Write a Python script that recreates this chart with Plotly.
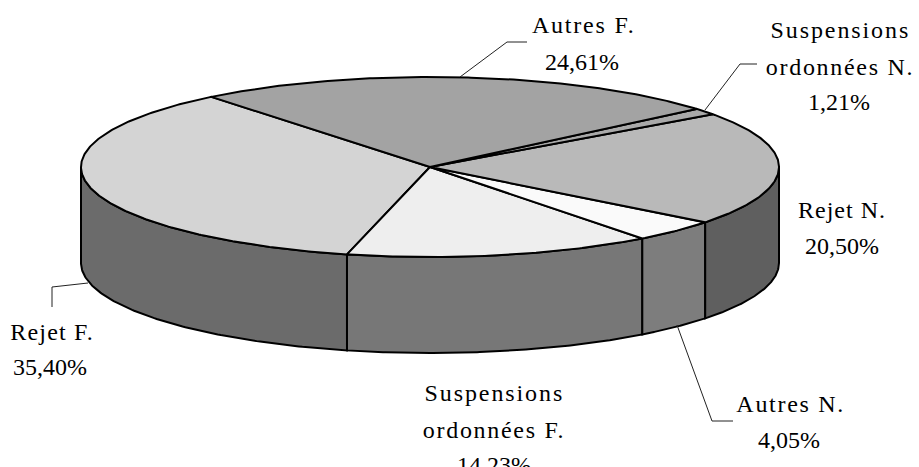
import json
import numpy as np
import plotly.graph_objects as go

# Data (counter-clockwise from the Rejet F. slice's start)
categories = ["Rejet F.", "Suspensions ordonnées F.", "Autres N.", "Rejet N.",
              "Suspensions ordonnées N.", "Autres F."]
values = [35.40, 14.23, 4.05, 20.50, 1.21, 24.61]
value_labels = ["35,40%", "14,23%", "4,05%", "20,50%", "1,21%", "24,61%"]
top_colors = ["#d4d4d4", "#eeeeee", "#fafafa", "#b9b9b9", "#a9a9a9", "#a3a3a3"]
side_colors = ["#6b6b6b", "#777777", "#7d7d7d", "#5f5f5f", "#555555", "#525252"]

W, H = 919, 467
CX, CY, RX, RY, DEPTH = 430, 167, 349, 90, 96
START = 128.8
LINE = dict(color="black", width=2)
FONT = dict(family="Liberation Serif", size=24, color="#000000")


def ell(t_deg, dy=0.0):
    t = np.radians(t_deg)
    return CX + RX * np.cos(t), CY - RY * np.sin(t) + dy


fig = go.Figure()
edges = START + np.concatenate([[0], np.cumsum(values)]) * 3.6

# Visible side walls
for i, name in enumerate(categories):
    a, b = edges[i], edges[i + 1]
    for lo, hi in [(180, 360), (540, 720)]:
        s, e = max(a, lo), min(b, hi)
        if e <= s:
            continue
        t = np.linspace(s, e, 120)
        x0, y0 = ell(t)
        x1, y1 = ell(t[::-1], DEPTH)
        fig.add_trace(go.Scatter(
            x=np.r_[x0, x1, x0[0]], y=np.r_[y0, y1, y0[0]], mode="lines",
            fill="toself", fillcolor=side_colors[i], line=LINE,
            name=name, hoverinfo="skip", showlegend=False))

# Top faces
for i, name in enumerate(categories):
    t = np.linspace(edges[i], edges[i + 1], max(int(edges[i + 1] - edges[i]) * 2, 8))
    x, y = ell(t)
    fig.add_trace(go.Scatter(
        x=np.r_[CX, x, CX], y=np.r_[CY, y, CY], mode="lines",
        fill="toself", fillcolor=top_colors[i], line=LINE,
        name=name, hoverinfo="skip", showlegend=False))

# Leader lines
leaders = [
    ([88, 52, 52], [283, 287, 307]),
    ([460, 507, 527], [77, 42, 42]),
    ([705, 740, 757], [110, 64, 64]),
    ([677, 712, 733], [325, 421, 421]),
]
for lx, ly in leaders:
    fig.add_trace(go.Scatter(x=lx, y=ly, mode="lines",
                             line=dict(color="#222222", width=1),
                             hoverinfo="skip", showlegend=False))

# Labels
labels = [
    ("Rejet F.", 52, 332), ("35,40%", 50, 367),
    ("Autres F.", 583, 25), ("24,61%", 582, 62),
    ("Suspensions", 840, 30), ("ordonnées N.", 840, 67), ("1,21%", 839, 102),
    ("Rejet N.", 842, 210), ("20,50%", 842, 246),
    ("Autres N.", 790, 404), ("4,05%", 789, 440),
    ("Suspensions", 494, 393), ("ordonnées F.", 494, 430), ("14,23%", 494, 465),
]
for text, x, y in labels:
    fig.add_annotation(x=x, y=y, text=text, showarrow=False, font=FONT,
                       xanchor="center", yanchor="middle")

fig.update_layout(
    width=W, height=H, margin=dict(l=0, r=0, t=0, b=0),
    paper_bgcolor="white", plot_bgcolor="white", showlegend=False,
    xaxis=dict(range=[0, W], visible=False, fixedrange=True),
    yaxis=dict(range=[H, 0], visible=False, fixedrange=True),
)

# Wider tracking of the word labels, as in the reference
spacing = {"Rejet F.": 1.2, "Rejet N.": 1.0, "Autres F.": 1.8, "Autres N.": 1.7,
           "Suspensions": 1.9, "ordonnées N.": 1.7, "ordonnées F.": 1.7}
post = (
    "document.body.style.margin='0';document.body.style.overflow='hidden';"
    "var sp=" + json.dumps(spacing, ensure_ascii=False) + ";"
    "document.querySelectorAll('.annotation-text').forEach(function(t){"
    "var v=sp[t.textContent];if(v){t.style.letterSpacing=v+'px';}});"
)
fig.write_html("out.html", config={"displayModeBar": False}, post_script=post)
